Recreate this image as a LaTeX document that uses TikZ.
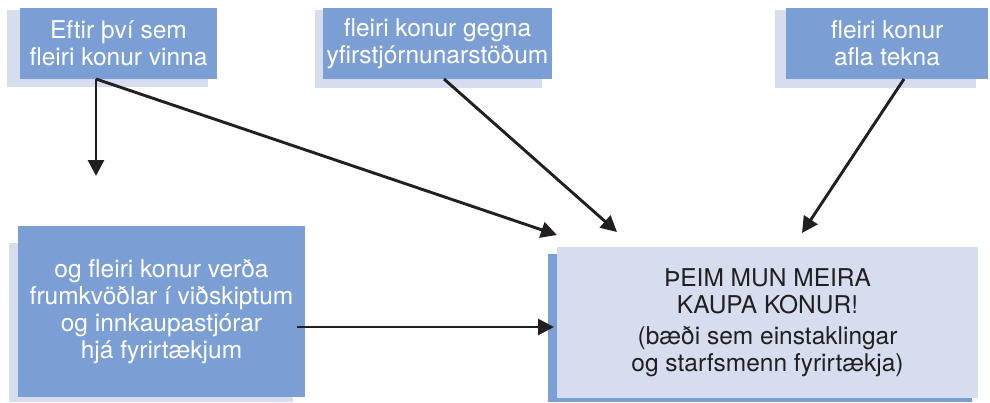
\documentclass[tikz,border=0pt]{standalone}
\usepackage{fontspec}
\setmainfont{TeX Gyre Heros}
\usetikzlibrary{arrows.meta}
\definecolor{midblue}{HTML}{7B9FD4}
\definecolor{lightblue}{HTML}{D5DDEF}
\definecolor{darktext}{HTML}{231F20}
\tikzset{
  boxbase/.style={rectangle, inner sep=0pt, outer sep=0pt, align=center, draw=none},
  frontbox/.style={boxbase, fill=midblue, text=white, font=\fontsize{24.5}{27}\selectfont},
  backbox/.style={boxbase, fill=lightblue},
  mainfront/.style={boxbase, fill=lightblue, text=darktext, font=\fontsize{24.5}{27}\selectfont},
  mainback/.style={boxbase, fill=midblue},
  arr/.style={draw=darktext, line width=2.9pt, -{Triangle[length=16pt,width=16pt]}}
}
\begin{document}
\begin{tikzpicture}[x=1pt,y=-1pt]
\useasboundingbox (0,0) rectangle (990,402);
% back shapes
\node[backbox, minimum width=201pt, minimum height=77pt] (b1back) at (107.5,48.5) {};
\node[backbox, minimum width=227pt, minimum height=78pt] (b2back) at (428.5,49) {};
\node[backbox, minimum width=201pt, minimum height=78pt] (b3back) at (875.5,49) {};
\node[backbox, minimum width=284pt, minimum height=159pt] (b4back) at (151,322.5) {};
\node[mainback, minimum width=424pt, minimum height=148pt] (b5back) at (760,328) {};
% front boxes
\node[frontbox, minimum width=197pt, minimum height=71pt] (b1) at (118.5,43.5) {Eftir því sem\\fleiri konur vinna};
\node[frontbox, minimum width=229pt, minimum height=71pt] (b2) at (437.5,43.5) {fleiri konur gegna\\yfirstjórnunarstöðum};
\node[frontbox, minimum width=202pt, minimum height=71pt] (b3) at (887,43.5) {fleiri konur\\afla tekna};
\node[frontbox, minimum width=287pt, minimum height=171pt] (b4) at (161.5,311.5) {og fleiri konur verða\\frumkvöðlar í viðskiptum\\og innkaupastjórar\\hjá fyrirtækjum};
\node[mainfront, minimum width=421pt, minimum height=151pt] (b5) at (767.5,322.5) {ÞEIM MUN MEIRA\\KAUPA KONUR!\\[4pt](bæði sem einstaklingar\\og starfsmenn fyrirtækja)};
% connector end points
\coordinate (s1) at (96,79);
\coordinate (d1) at (96,176);
\coordinate (s2) at (444,79);
\coordinate (s3) at (904,79);
\coordinate (s4) at (297,327);
\coordinate (t1) at (557,235);
\coordinate (t2) at (617,232);
\coordinate (t3) at (802,233);
\coordinate (t4) at (554,327);
% connectors
\draw[arr] (s1) -- (d1);
\draw[arr] (s1) -- (t1);
\draw[arr] (s2) -- (t2);
\draw[arr] (s3) -- (t3);
\draw[arr] (s4) -- (t4);
\end{tikzpicture}
\end{document}
